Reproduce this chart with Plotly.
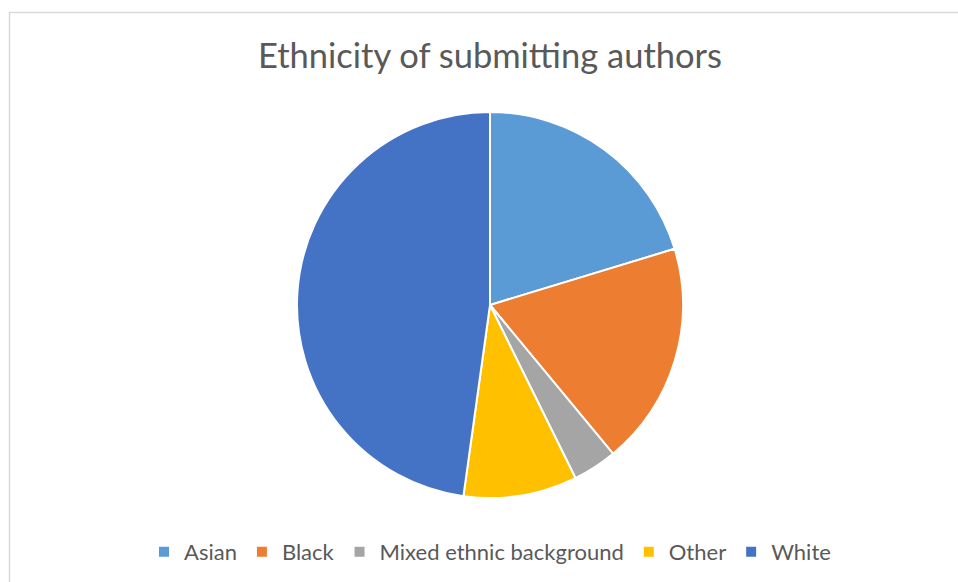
import plotly.graph_objects as go

categories = ["Asian", "Black", "Mixed ethnic background", "Other", "White"]
values = [20.3, 18.7, 3.7, 9.5, 47.8]
colors = ["#5B9BD5", "#ED7D31", "#A5A5A5", "#FFC000", "#4472C4"]

W, H = 958, 582
cx, cy, r = 490, 305, 193

fig = go.Figure(go.Pie(
    labels=categories,
    values=values,
    sort=False,
    direction="clockwise",
    rotation=0,
    textinfo="none",
    hoverinfo="label+percent",
    marker=dict(colors=colors, line=dict(color="white", width=2)),
    domain=dict(x=[(cx - r) / W, (cx + r) / W], y=[1 - (cy + r) / H, 1 - (cy - r) / H]),
))

fig.update_layout(
    width=W, height=H,
    margin=dict(l=0, r=0, t=0, b=0),
    paper_bgcolor="white",
    font=dict(family="Lato, Carlito, sans-serif", color="#595959"),
    title=dict(text="Ethnicity of submitting authors", x=490 / W, xanchor="center",
               y=1 - 56 / H, yanchor="middle",
               font=dict(size=34.5, color="#595959", family="Lato, sans-serif")),
    legend=dict(orientation="h", x=490 / W, xanchor="center", y=1 - 552 / H, yanchor="middle",
                font=dict(size=22, color="#595959"), itemclick=False),
    shapes=[
        dict(type="line", xref="paper", yref="paper", x0=9 / W, x1=1, y0=1 - 12.5 / H, y1=1 - 12.5 / H,
             line=dict(color="#D9D9D9", width=1.5)),
        dict(type="line", xref="paper", yref="paper", x0=9.5 / W, x1=9.5 / W, y0=0, y1=1 - 12 / H,
             line=dict(color="#D9D9D9", width=1.5)),
    ],
)

fig.write_html("out.html")
